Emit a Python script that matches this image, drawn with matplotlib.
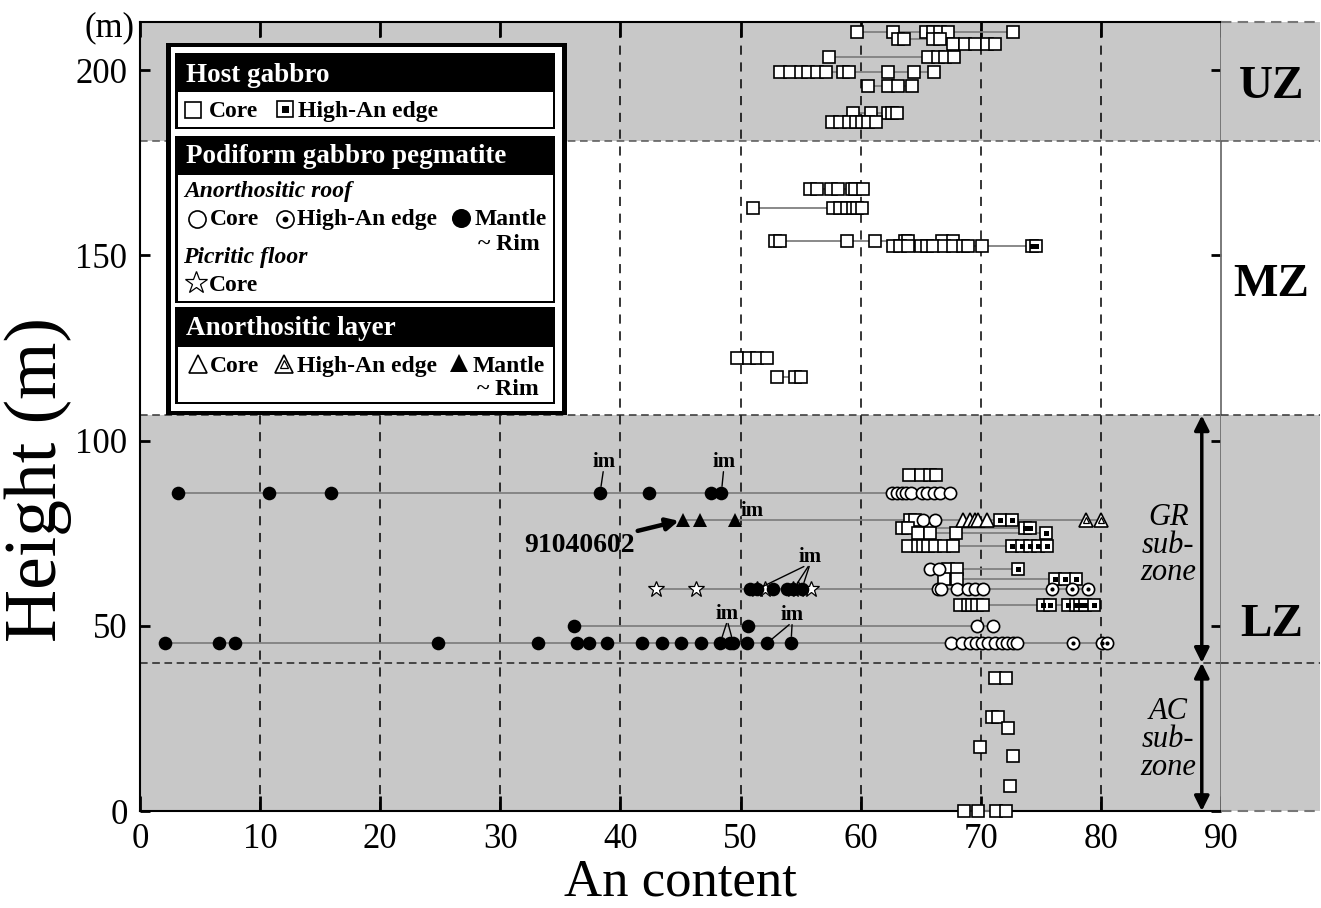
import matplotlib
matplotlib.use("Agg")
import matplotlib.pyplot as plt
from matplotlib.patches import Rectangle

plt.rcParams['font.family'] = ['Liberation Serif', 'DejaVu Serif']

W, H = 1321, 908

# each row: (height in m, An contents measured at that height)
host_core = [
    (210.3, [59.7, 62.7, 65.4, 66.0, 66.6, 67.3, 72.7]),
    (208.3, [63.1, 63.6, 66.0, 66.6]),
    (207.0, [67.7, 68.7, 69.5, 70.5, 71.2]),
    (203.5, [57.4, 65.6, 66.4, 67.0, 67.8]),
    (199.5, [53.3, 54.1, 55.0, 55.6, 56.4, 57.1, 58.5, 59.0, 62.3, 64.4, 66.1]),
    (195.7, [60.6, 62.3, 63.1, 64.3]),
    (188.4, [59.4, 60.9, 62.3, 62.6, 63.0]),
    (186.0, [57.6, 58.3, 59.0, 59.6, 60.1, 60.6, 61.3]),
    (167.9, [55.8, 56.4, 57.5, 58.1, 59.3, 59.5, 60.2]),
    (162.8, [51.0, 57.7, 58.3, 58.9, 59.4, 59.7, 60.1]),
    (153.8, [52.9, 53.3, 58.9, 61.2, 63.7, 63.9, 66.8, 67.7]),
    (152.5, [62.7, 63.3, 63.9, 65.0, 65.5, 66.0, 66.9, 67.7, 68.5, 68.9, 70.1]),
    (122.3, [49.7, 50.7, 51.4, 52.2]),
    (117.1, [53.0, 54.5, 55.0]),
    (90.7, [64.0, 65.0, 65.8, 66.3]),
    (78.6, [64.1, 64.5]),
    (76.4, [63.4, 63.9, 65.5]),
    (75.0, [64.8, 65.8, 67.9]),
    (71.5, [63.9, 64.8, 65.2, 65.6, 66.2, 66.9, 67.7]),
    (65.3, [67.3, 68.0]),
    (62.6, [66.9, 68.0]),
    (55.6, [68.3, 68.9, 69.3, 69.7, 70.2]),
    (35.9, [71.2, 72.1]),
    (25.4, [70.9, 71.4]),
    (22.4, [72.3]),
    (17.3, [69.9]),
    (14.8, [72.7]),
    (6.7, [72.4]),
    (0.0, [68.6, 69.8, 71.3, 72.1]),
]
host_edge = [
    (152.5, [74.3, 74.6]),
    (78.6, [71.6, 72.6]),
    (76.4, [73.7, 74.1]),
    (75.0, [75.4]),
    (71.5, [72.6, 73.4, 74.1, 74.8, 75.5]),
    (65.3, [73.1]),
    (62.6, [76.2, 77.0, 77.9]),
    (55.6, [75.2, 75.8, 77.3, 77.9, 78.3, 78.7, 79.4]),
]
roof_core = [
    (85.8, [62.6, 63.0, 63.4, 63.8, 64.2, 65.1, 65.5, 66.1, 66.6, 67.4]),
    (78.6, [65.2, 66.2]),
    (65.3, [65.8, 66.5]),
    (59.9, [66.4, 66.7, 68.0, 68.9, 69.5, 70.2]),
    (50.0, [69.7, 71.0]),
    (45.3, [67.5, 68.4, 69.1, 69.6, 70.1, 70.6, 71.2, 71.8, 72.2, 72.7, 73.0]),
]
roof_edge = [
    (59.9, [75.9, 77.6, 78.9]),
    (45.3, [77.7, 80.1, 80.5]),
]
roof_rim = [
    (85.8, [3.2, 10.7, 15.9, 38.3, 42.4, 47.5, 48.4]),
    (59.9, [50.8, 51.4, 52.7, 53.9, 54.4, 55.1]),
    (50.0, [36.1, 50.6]),
    (45.3, [2.1, 6.6, 7.9, 24.8, 33.1, 36.4, 37.4, 38.9, 41.8, 43.5, 45.0,
            46.7, 48.3, 49.1, 49.4, 50.5, 52.2, 54.2]),
]
floor_core = [
    (59.9, [43.0, 46.3, 51.4, 52.0, 54.4, 54.8, 55.9]),
]
layer_core = [
    (78.6, [68.5, 69.1, 69.5, 69.8, 70.5]),
]
layer_edge = [
    (78.6, [78.8, 80.0]),
]
layer_rim = [
    (78.6, [45.2, 46.6, 49.5]),
]

zone_names = ['UZ', 'MZ', 'LZ']
zone_label_y = [195.4, 142.0, 50.2]
lz_top, uz_bottom, gr_bottom, y_top = 106.8, 181.0, 40.0, 213.0

# "im" labels: label position, leader targets (An, height)
im_labels = [
    ((38.6, 94.2), [(38.3, 85.8)]),
    ((48.6, 94.2), [(48.4, 85.8)]),
    ((51.0, 81.0), []),
    ((55.8, 68.6), [(51.4, 59.9), (54.4, 59.9), (55.1, 59.9)]),
    ((48.9, 53.2), [(48.3, 45.3), (49.4, 45.3)]),
    ((54.3, 52.9), [(52.2, 45.3), (54.2, 45.3)]),
]

STYLES = {
    'host_core': [dict(marker='s', ms=8.2, mfc='white', mec='k', mew=1.2)],
    'host_edge': [dict(marker='s', ms=8.2, mfc='white', mec='k', mew=1.2),
                  dict(marker='s', ms=3.6, mfc='k', mec='k', mew=0)],
    'roof_core': [dict(marker='o', ms=8.8, mfc='white', mec='k', mew=1.2)],
    'roof_edge': [dict(marker='o', ms=8.8, mfc='white', mec='k', mew=1.2),
                  dict(marker='o', ms=3.0, mfc='k', mec='k', mew=0)],
    'roof_rim': [dict(marker='o', ms=9.8, mfc='k', mec='k', mew=0)],
    'floor_core': [dict(marker='*', ms=12, mfc='white', mec='k', mew=0.9)],
    'layer_core': [dict(marker='^', ms=9.5, mfc='white', mec='k', mew=1.2)],
    'layer_edge': [dict(marker='^', ms=9.5, mfc='white', mec='k', mew=1.2),
                   dict(marker='^', ms=4.2, mfc='white', mec='k', mew=0.9)],
    'layer_rim': [dict(marker='^', ms=9.5, mfc='k', mec='k', mew=0)],
}

groups = [('host_core', host_core), ('host_edge', host_edge),
          ('roof_core', roof_core), ('roof_edge', roof_edge),
          ('floor_core', floor_core), ('roof_rim', roof_rim),
          ('layer_core', layer_core), ('layer_edge', layer_edge),
          ('layer_rim', layer_rim)]


def draw_marks(axis, xs, ys, kind, scale=1.0, z=4):
    for st in STYLES[kind]:
        st = dict(st)
        st['ms'] = st['ms'] * scale
        axis.plot(xs, ys, ls='none', zorder=z, clip_on=False, **st)


fig = plt.figure(figsize=(W / 100, H / 100), dpi=100)
ax = fig.add_axes([140 / W, 1 - 811 / H, (1221 - 140) / W, (811 - 22) / H])
ax2 = fig.add_axes([1221 / W, 1 - 811 / H, (1320 - 1221) / W, (811 - 22) / H])

band = '#c8c8c8'
for a in (ax, ax2):
    a.set_ylim(0, y_top)
    a.axhspan(0, lz_top, color=band, lw=0, zorder=0)
    a.axhspan(uz_bottom, y_top, color=band, lw=0, zorder=0)
    for yb, c in [(uz_bottom, '#555555'), (lz_top, '#333333'), (gr_bottom, '#222222')]:
        a.axhline(yb, color=c, lw=1.1, ls=(0, (5, 3)), zorder=1)
ax.set_xlim(0, 90)
ax2.set_xlim(0, 1)
ax2.axis('off')
for yb in (0, y_top):
    ax2.axhline(yb, color='#777777', lw=1.5, ls=(0, (5, 3)), clip_on=False)

for v in range(10, 90, 10):
    ax.axvline(v, color='k', lw=1.1, ls=(0, (6, 5)), zorder=1)

# connecting lines per sample height
rows = {}
for _, g in groups:
    for h, vals in g:
        rows.setdefault(h, []).extend(vals)
for h, vals in rows.items():
    if len(vals) > 1:
        ax.plot([min(vals), max(vals)], [h, h], color='#808080', lw=1.3, zorder=3,
                clip_on=False)

for kind, g in groups:
    for h, vals in g:
        draw_marks(ax, vals, [h] * len(vals), kind)

# axes styling
for s in ('left', 'top', 'bottom'):
    ax.spines[s].set_linewidth(1.5)
ax.spines['right'].set_color('#707070')
ax.spines['right'].set_linewidth(1.3)
ax.set_xticks(range(0, 91, 10))
ax.set_yticks([0, 50, 100, 150, 200])
ax.tick_params(axis='x', direction='in', length=11, width=2, top=True, bottom=True,
               labelsize=25, pad=9)
ax.tick_params(axis='y', direction='in', length=7.5, width=2, left=True, right=True,
               labelsize=25, pad=9)
ax.text(-2.5, 211.3, '(m)', fontsize=25, ha='center', va='center', clip_on=False)
fig.text(680 / W, 1 - 896 / H, 'An content', ha='center', va='baseline', fontsize=38)
fig.text(38 / W, 1 - 479 / H, 'Height (m)', rotation=90, ha='center', va='center',
         fontsize=53)

for name, yz in zip(zone_names, zone_label_y):
    ax2.text(0.51, yz, name, fontsize=34, fontweight='bold', ha='center', va='center')

# sub-zone arrows
for lo, hi, lab, ly in [(gr_bottom, lz_top, 'GR\nsub-\nzone', 71.8),
                        (0, gr_bottom, 'AC\nsub-\nzone', 19.2)]:
    ax.annotate('', xy=(88.4, hi), xytext=(88.4, lo),
                arrowprops=dict(arrowstyle='<|-|>', lw=2.5, color='k', mutation_scale=22,
                                shrinkA=0, shrinkB=0), zorder=5)
    ax.text(85.6, ly, lab, fontsize=22, style='italic', ha='center', va='center',
            linespacing=0.95)

# im labels
for (tx, ty), targets in im_labels:
    ax.text(tx, ty, 'im', fontsize=15, fontweight='bold', ha='center', va='center', zorder=6)
    for t in targets:
        ax.annotate('', xy=t, xytext=(tx + (t[0] - tx) * 0.12, ty - 2.6),
                    arrowprops=dict(arrowstyle='-', lw=1.0, color='k', shrinkA=0,
                                    shrinkB=5), zorder=6)

ax.annotate('91040602', xy=(45.2, 78.6), xytext=(36.6, 71.8), fontsize=20,
            fontweight='bold', ha='center', va='center', zorder=6,
            arrowprops=dict(arrowstyle='-|>', lw=3.2, color='k', mutation_scale=18,
                            shrinkA=0, shrinkB=3))

# legend in pixel coordinates
lg = fig.add_axes([0, 0, 1, 1], zorder=10)
lg.set_xlim(0, W)
lg.set_ylim(H, 0)
lg.axis('off')


def box(x0, y0, x1, y1, color):
    lg.add_patch(Rectangle((x0, y0), x1 - x0, y1 - y0, facecolor=color, edgecolor='none'))


box(166, 43, 567, 415, 'black')
box(171, 47, 562, 411, 'white')
for top, mid, bot in [(53, 92, 129), (136, 175, 303), (307, 347, 404)]:
    box(175, top, 555, bot, 'black')
    box(177.5, mid, 552.5, bot - 2.5, 'white')

hdr = dict(color='white', fontsize=19.5, fontweight='bold', va='baseline')
lg.text(186, 82, 'Host gabbro', **hdr)
lg.text(186, 163, 'Podiform gabbro pegmatite', **hdr)
lg.text(186, 335, 'Anorthositic layer', **hdr)

body = dict(color='black', fontsize=17, fontweight='bold', va='baseline')
ital = dict(color='black', fontsize=17, fontweight='bold', style='italic', va='baseline')
legend_items = [
    ('host_core', 193, 110, 'Core', 209, 117),
    ('host_edge', 285, 109, 'High-An edge', 298, 117),
    ('roof_core', 197, 219, 'Core', 210, 225),
    ('roof_edge', 285, 219, 'High-An edge', 297, 225),
    ('roof_rim', 461, 218, 'Mantle', 475, 225),
    ('floor_core', 196, 283, 'Core', 209, 291),
    ('layer_core', 198, 364, 'Core', 210, 372),
    ('layer_edge', 284, 364, 'High-An edge', 297, 372),
    ('layer_rim', 459, 363, 'Mantle', 473, 372),
]
for kind, mx, my, lab, tx, ty in legend_items:
    draw_marks(lg, [mx], [my], kind, scale=1.4, z=12)
    lg.text(tx, ty, lab, zorder=12, **body)
lg.text(478, 250, '~ Rim', zorder=12, **body)
lg.text(477, 395, '~ Rim', zorder=12, **body)
lg.text(184, 197, 'Anorthositic roof', zorder=12, **ital)
lg.text(183, 263, 'Picritic floor', zorder=12, **ital)

fig.savefig('out.png', dpi=100)
